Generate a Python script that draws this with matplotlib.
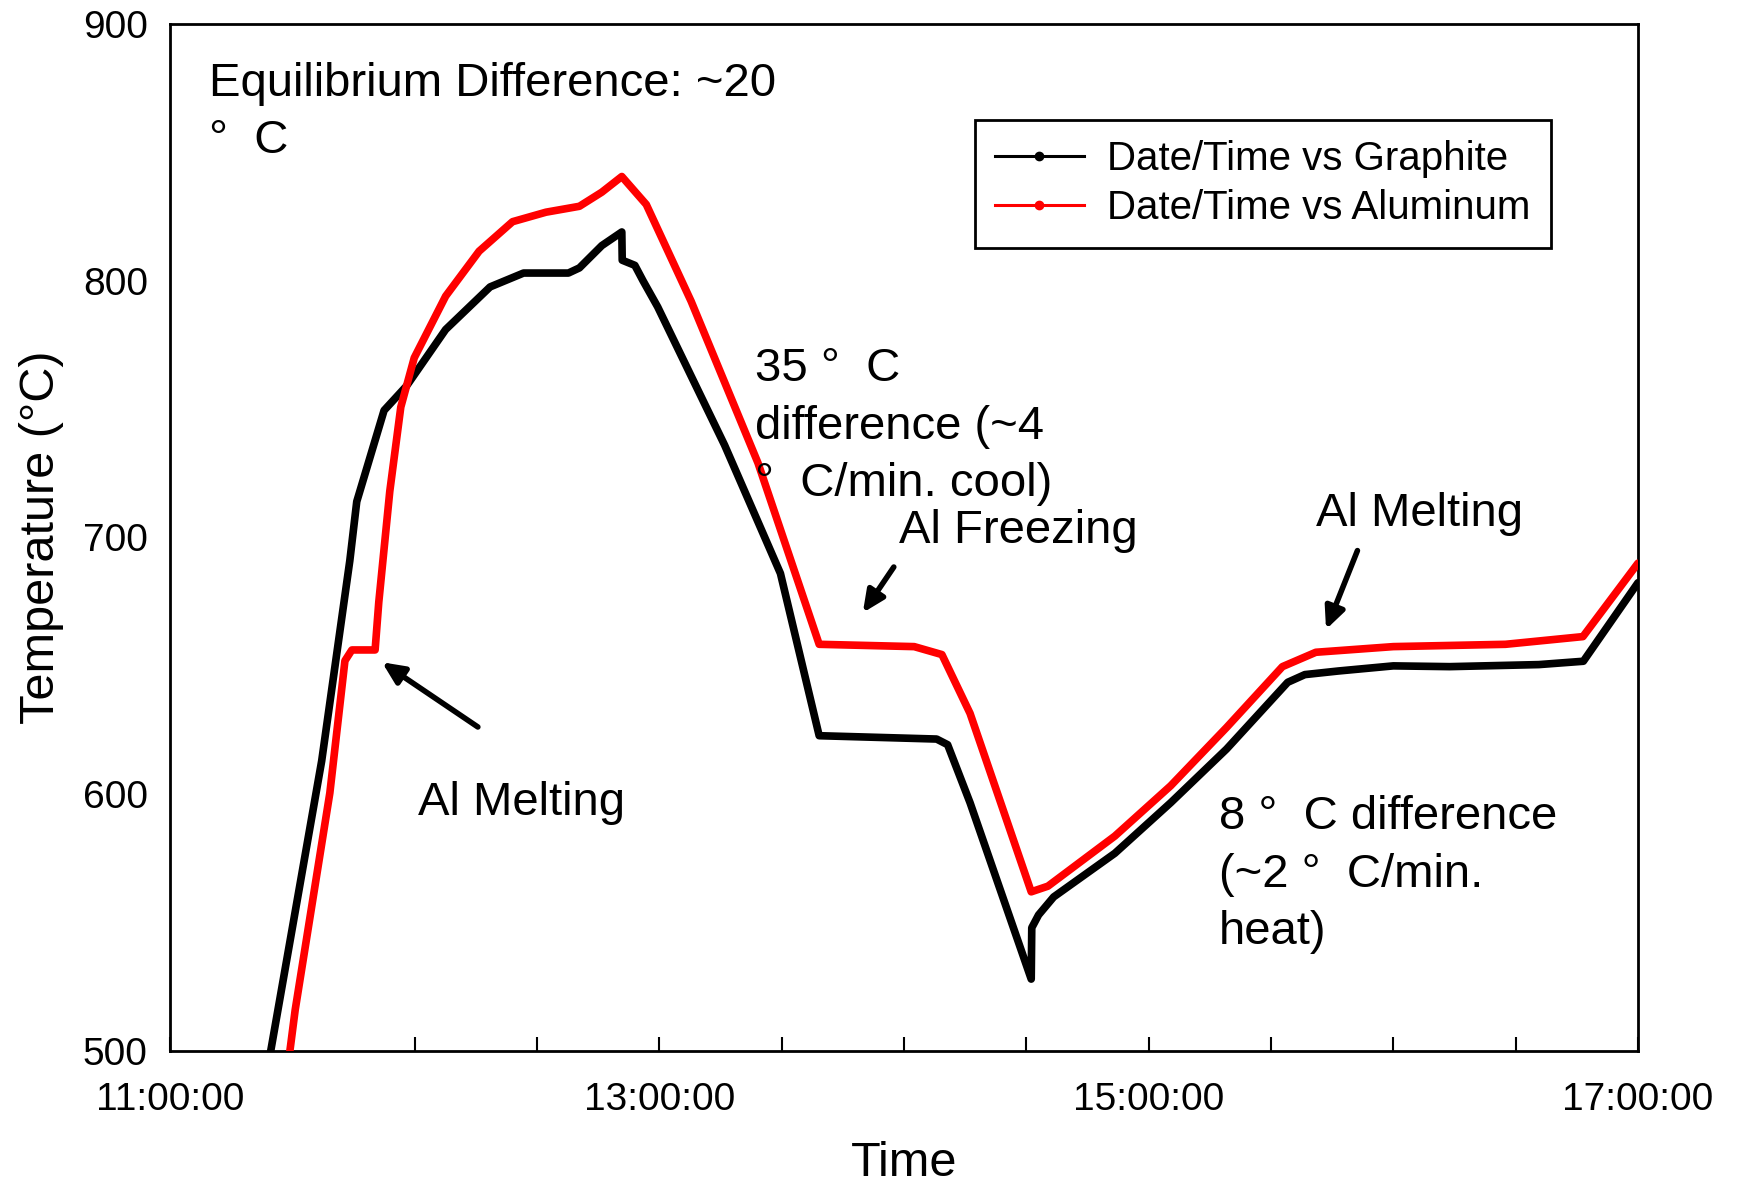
import matplotlib
matplotlib.use("Agg")
import matplotlib.pyplot as plt
import matplotlib.dates as mdates
from matplotlib.lines import Line2D
import pandas as pd

plt.rcParams["font.family"] = ["Liberation Sans", "DejaVu Sans"]

DAY = "2000-01-01 "

# Graphite thermocouple (black)
graphite_time = ["11:24:42", "11:37:12", "11:44:06", "11:45:48", "11:52:30", "11:58:00",
                 "12:07:36", "12:18:30", "12:26:42", "12:37:42", "12:40:24", "12:45:54",
                 "12:50:48", "12:50:54", "12:54:00", "12:56:00", "12:59:36", "13:16:00",
                 "13:29:42", "13:39:12", "14:08:00", "14:10:42", "14:16:12", "14:31:12",
                 "14:31:20", "14:33:00", "14:36:42", "14:51:42", "15:05:24", "15:19:06",
                 "15:34:06", "15:38:18", "15:46:30", "16:00:00", "16:13:48", "16:35:42",
                 "16:46:36", "17:00:00"]
graphite_temp = [500, 613, 691, 714, 749.5, 759,
                 781, 797.6, 803, 803, 805, 813.7,
                 819, 808, 806, 800, 789.8, 736,
                 686, 622.8, 621.5, 619.3, 596.7, 528,
                 548, 553, 560, 577, 596.7, 617.6,
                 643.6, 646.6, 648, 650, 649.7, 650.5,
                 651.8, 682.4]

# Aluminum thermocouple (red)
aluminum_time = ["11:29:24", "11:30:42", "11:39:12", "11:42:54", "11:44:36", "11:50:18",
                 "11:51:12", "11:53:54", "11:56:36", "11:59:54", "12:07:36", "12:15:48",
                 "12:24:00", "12:32:12", "12:40:24", "12:45:54", "12:50:48", "12:56:48",
                 "13:07:48", "13:24:12", "13:39:12", "14:02:30", "14:09:18", "14:16:12",
                 "14:31:12", "14:35:18", "14:51:42", "15:05:24", "15:19:06", "15:32:48",
                 "15:41:00", "16:00:00", "16:27:30", "16:46:30", "17:00:00"]
aluminum_temp = [500, 516, 600.5, 652, 656.2, 656.2,
                 674.8, 718, 750.8, 770, 794, 811.5,
                 823, 826.7, 829, 834.5, 840.6, 829.7,
                 792, 729, 658.4, 657.5, 654.4, 631.5,
                 562, 564.2, 583.7, 603.3, 626, 649.7,
                 655.3, 657.5, 658.4, 661.4, 690]

series_labels = ["Date/Time vs Graphite", "Date/Time vs Aluminum"]
series_colors = ["black", "red"]

# text notes: (text, time, temperature at baseline of last line)
notes = [
    ("Equilibrium Difference: ~20\n°  C", "11:09:36", 849.7),
    ("35 °  C\ndifference (~4\n°  C/min. cool)", "13:23:24", 716.0),
    ("Al Freezing", "13:58:42", 697.8),
    ("Al Melting", "15:41:00", 704.3),
    ("Al Melting", "12:00:42", 592.0),
    ("8 °  C difference\n(~2 °  C/min.\nheat)", "15:17:12", 541.6),
]

# arrows: (tail time, tail temp, tip time, tip temp)
arrows = [
    ("12:15:30", 626.2, "11:52:00", 651.4),
    ("13:57:30", 688.5, "13:49:54", 670.7),
    ("15:51:12", 694.9, "15:43:30", 664.2),
]


def to_num(t):
    return mdates.date2num(pd.Timestamp(DAY + t))


fig = plt.figure(figsize=(17.48, 11.88), dpi=100)
ax = fig.add_axes([0.09725, 0.11532, 0.83982, 0.86448])

gx = pd.to_datetime([DAY + t for t in graphite_time])
alx = pd.to_datetime([DAY + t for t in aluminum_time])
ax.plot(gx, graphite_temp, color=series_colors[0], lw=5.5, solid_joinstyle="round",
        solid_capstyle="round", zorder=3)
ax.plot(alx, aluminum_temp, color=series_colors[1], lw=5.5, solid_joinstyle="round",
        solid_capstyle="round", zorder=3)

ax.set_xlim(pd.Timestamp(DAY + "11:00:00"), pd.Timestamp(DAY + "17:00:00"))
ax.set_ylim(500, 900)
ax.xaxis.set_major_locator(mdates.HourLocator(byhour=[11, 13, 15, 17]))
ax.xaxis.set_minor_locator(mdates.MinuteLocator(byminute=[0, 30]))
ax.xaxis.set_major_formatter(mdates.DateFormatter("%H:%M:%S"))
ax.set_yticks([500, 600, 700, 800, 900])

ax.tick_params(axis="x", which="both", direction="in", length=10, width=1.5,
               labelsize=28, pad=22, top=False)
ax.tick_params(axis="y", which="both", direction="in", length=0, labelsize=28, pad=16)
for s in ax.spines.values():
    s.set_linewidth(2)

ax.set_xlabel("Time", fontsize=35)
ax.set_ylabel("Temperature (°C)", fontsize=35)
ax.xaxis.set_label_coords(0.5, -0.088)
ax.yaxis.set_label_coords(-0.0725, 0.5)

for text, t, temp in notes:
    ax.text(to_num(t), temp, text, fontsize=34, ha="left", va="baseline",
            linespacing=1.4)

for t0, y0, t1, y1 in arrows:
    ax.annotate("", xy=(to_num(t1), y1), xytext=(to_num(t0), y0),
                arrowprops=dict(arrowstyle="-|>,head_length=0.65,head_width=0.3",
                                lw=4, color="black", shrinkA=0, shrinkB=0,
                                mutation_scale=20))

handles = [Line2D([], [], color=c, lw=2.2, marker="o", markersize=6) for c in series_colors]
leg = ax.legend(handles, series_labels, loc="upper left", bbox_to_anchor=(0.5484, 0.9065),
                borderaxespad=0, fontsize=29, frameon=True, fancybox=False,
                edgecolor="black", framealpha=1, handlelength=2.2, handletextpad=0.58,
                labelspacing=0.28, borderpad=0.5)
leg.get_frame().set_linewidth(2)

fig.savefig("out.png", dpi=100)
